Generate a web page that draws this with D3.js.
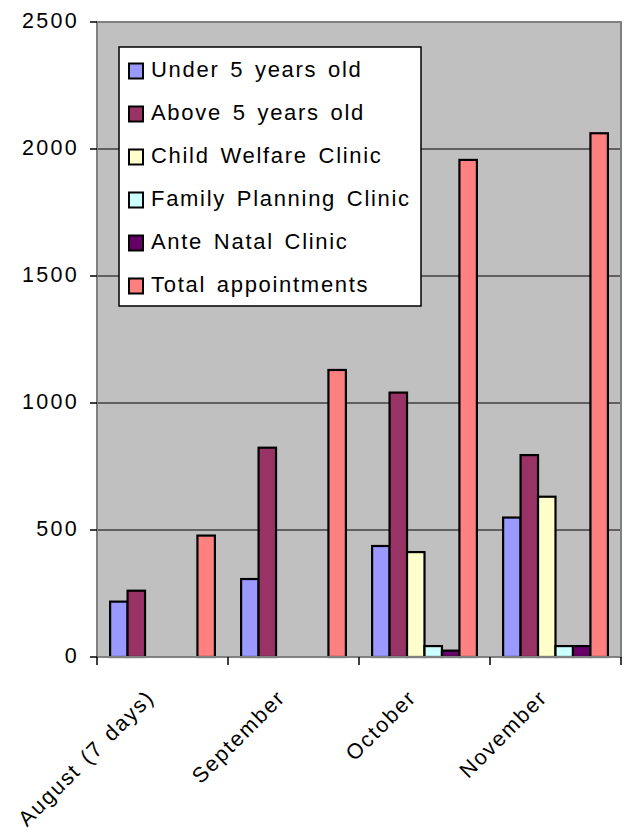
<!DOCTYPE html>
<html><head><meta charset="utf-8">
<script src="https://cdn.jsdelivr.net/npm/d3@7"></script>
<style>
html,body{margin:0;padding:0;background:#fff;}
svg text{font-family:"Liberation Sans",Arial,sans-serif;fill:#000;}
</style></head>
<body>
<svg id="chart" width="626" height="834"></svg>
<script>
const categories = ["August (7 days)", "September", "October", "November"];
const seriesNames = ["Under 5 years old", "Above 5 years old", "Child Welfare Clinic", "Family Planning Clinic", "Ante Natal Clinic", "Total appointments"];
const under5 = [218, 307, 437, 549];
const above5 = [261, 824, 1041, 795];
const childWelfare = [null, null, 413, 631];
const familyPlanning = [null, null, 43, 43];
const anteNatal = [null, null, 25, 43];
const totalAppointments = [478, 1130, 1957, 2062];
const yTicks = [0, 500, 1000, 1500, 2000, 2500];
const colors = ["#9999FF", "#993366", "#FFFFCC", "#CCFFFF", "#660066", "#FF8080"];

const seriesValues = [under5, above5, childWelfare, familyPlanning, anteNatal, totalAppointments];
const svg = d3.select("#chart");
const plot = {left: 97, right: 621, top: 22, bottom: 657};

const x = d3.scaleBand().domain(categories).range([plot.left, plot.right]).paddingInner(0).paddingOuter(0);
const xs = d3.scaleBand().domain(seriesNames).range([0, x.bandwidth()]).paddingInner(0).paddingOuter(0.75);
const y = d3.scaleLinear().domain([0, 2500]).range([plot.bottom, plot.top]);

// plot background
svg.append("rect").attr("x", plot.left).attr("y", plot.top)
  .attr("width", plot.right - plot.left).attr("height", plot.bottom - plot.top)
  .attr("fill", "#C0C0C0");

// gridlines
svg.append("g").selectAll("line").data(yTicks.filter(d => d > 0 && d < 2500)).join("line")
  .attr("x1", plot.left).attr("x2", plot.right)
  .attr("y1", d => y(d)).attr("y2", d => y(d))
  .attr("stroke", "#000").attr("stroke-width", 1);

// bars
const data = [];
categories.forEach((c, i) => {
  seriesNames.forEach((s, j) => {
    const v = seriesValues[j][i];
    if (v != null) data.push({c, s, v, color: colors[j]});
  });
});
svg.append("g").selectAll("rect").data(data).join("rect")
  .attr("x", d => x(d.c) + xs(d.s))
  .attr("y", d => y(d.v))
  .attr("width", xs.bandwidth())
  .attr("height", d => y(0) - y(d.v))
  .attr("fill", d => d.color)
  .attr("stroke", "#000").attr("stroke-width", 2.2);

// plot border
svg.append("rect").attr("x", plot.left).attr("y", plot.top)
  .attr("width", plot.right - plot.left).attr("height", plot.bottom - plot.top)
  .attr("fill", "none").attr("stroke", "#808080").attr("stroke-width", 2);

// y axis ticks + labels
const yg = svg.append("g");
yg.selectAll("line").data(yTicks).join("line")
  .attr("x1", plot.left - 7).attr("x2", plot.left)
  .attr("y1", d => y(d)).attr("y2", d => y(d))
  .attr("stroke", "#000").attr("stroke-width", 1.5);
yg.selectAll("text").data(yTicks).join("text")
  .attr("x", 79).attr("y", d => y(d) + 5.5)
  .attr("text-anchor", "end")
  .style("font-size", "21.5px").style("letter-spacing", "2.3px")
  .text(d => d);

// x axis ticks
const xTickPos = categories.map(c => x(c)).concat([plot.right]);
svg.append("g").selectAll("line").data(xTickPos).join("line")
  .attr("x1", d => d).attr("x2", d => d)
  .attr("y1", plot.bottom).attr("y2", plot.bottom + 8)
  .attr("stroke", "#000").attr("stroke-width", 1.5);

// x labels
svg.append("g").selectAll("text").data(categories).join("text")
  .attr("transform", c => `translate(${x(c) + x.bandwidth() / 2 - 7},${plot.bottom + 42}) rotate(-45)`)
  .attr("text-anchor", "end")
  .style("font-size", "21.5px").style("letter-spacing", "1.8px").style("word-spacing", "2px")
  .text(c => c);

// legend
const lg = svg.append("g");
lg.append("rect").attr("x", 119).attr("y", 47).attr("width", 302).attr("height", 259)
  .attr("fill", "#fff").attr("stroke", "#000").attr("stroke-width", 1.5);
const ly = d3.scalePoint().domain(seriesNames).range([70.5, 285.5]);
const items = lg.selectAll("g.item").data(seriesNames).join("g").attr("class", "item")
  .attr("transform", s => `translate(0,${ly(s)})`);
items.append("rect").attr("x", 129).attr("y", -7).attr("width", 14).attr("height", 15)
  .attr("fill", (s, i) => colors[i]).attr("stroke", "#000").attr("stroke-width", 2);
items.append("text").attr("x", 151).attr("y", 6.5)
  .style("font-size", "22px").style("letter-spacing", "1.7px").style("word-spacing", "3px")
  .text(s => s);
</script>
</body></html>
